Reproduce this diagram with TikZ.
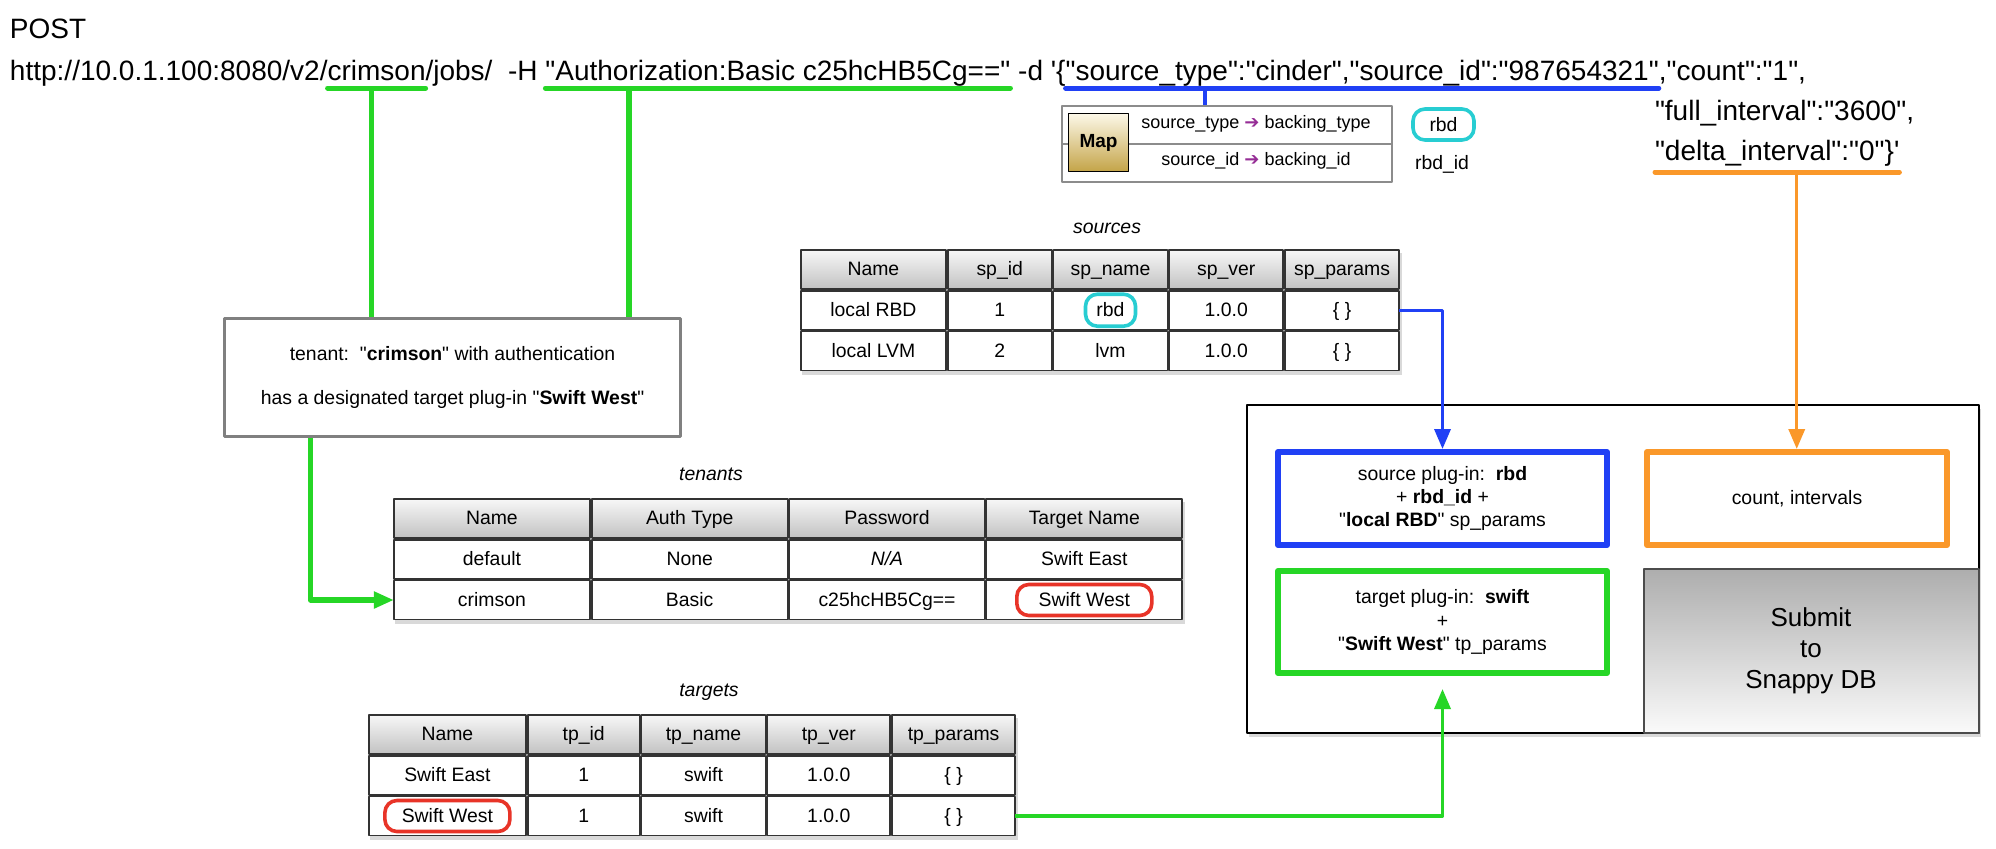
\documentclass[tikz,border=0pt]{standalone}
\usepackage{fontspec}
\setmainfont{Liberation Sans}[Ligatures=TeXOff]
\newfontfamily\urlfont{Liberation Sans}[Ligatures=TeXOff]
\newfontfamily\symfont{DejaVu Sans}
\usetikzlibrary{arrows.meta,calc,matrix,shadows}

\definecolor{linkgreen}{RGB}{38,214,38}
\definecolor{linkblue}{RGB}{32,64,245}
\definecolor{linkorange}{RGB}{250,152,42}
\definecolor{pillcyan}{RGB}{40,205,210}
\definecolor{pillred}{RGB}{232,52,40}
\definecolor{mappurple}{RGB}{150,45,150}
\definecolor{mapgold}{RGB}{196,164,72}
\definecolor{mapcream}{RGB}{252,248,232}

\newcommand{\tabfont}{\fontsize{9.7}{11.6}\selectfont}
\newcommand{\maparrow}{{\symfont\color{mappurple}\char"2794}}

\begin{document}
\begin{tikzpicture}[x=0.5pt,y=-0.5pt,line join=round,
  urltext/.style={font=\urlfont\fontsize{14}{16}\selectfont,inner sep=0pt,outer sep=0pt,anchor=base west},
  underline/.style={draw=#1,line width=2.5pt,line cap=round},
  widegreen/.style={draw=linkgreen,line width=2.8pt},
  thinline/.style={draw=#1,line width=1.7pt},
  tip/.style={-{Triangle[length=10pt,width=8pt]}},
  cell/.style={draw=black!80,line width=0.9pt,minimum height=19.5pt,inner sep=0pt,outer sep=0pt,
    text height=1.5ex,text depth=.3ex,font=\tabfont},
  dbtable/.style={matrix of nodes,inner sep=0pt,outer sep=0pt,column sep=0pt,row sep=0pt,
    anchor=north west,fill=white,drop shadow={opacity=.3,shadow xshift=1pt,shadow yshift=-2pt},
    nodes={cell},row 1/.style={nodes={top color=black!3,bottom color=black!24}}},
  tablabel/.style={font=\tabfont\itshape,inner sep=0pt},
  ring/.style={draw=#1,line width=1.8pt,rounded corners=6pt,minimum height=15.5pt,inner sep=0pt,font=\tabfont},
  plugbox/.style={draw=#1,line width=3pt,fill=white,align=center,font=\tabfont,inner sep=0pt}]
\useasboundingbox (0,0) rectangle (1996,848);

% Requete
\node[urltext] (post) at (10,38) {POST};
\node[urltext] (url) at (10,80) {http://10.0.1.100:8080/v2/};
\node[urltext] (crim) at (url.base east) {crimson};
\node[urltext] (jobs) at (crim.base east) {/jobs/\ \ -H\ \mbox{}};
\node[urltext] (auth) at (jobs.base east) {"Authorization:Basic c25hcHB5Cg=="};
\node[urltext] (dopt) at (auth.base east) {\mbox{}\ -d\ '\{};
\node[urltext] (srcpart) at (dopt.base east) {"source\_type":"cinder","source\_id":"987654321"};
\node[urltext] (cnt) at (srcpart.base east) {,"count":"1",};
\node[urltext] (full) at (1655,120) {"full\_interval":"3600",};
\node[urltext] (delta) at (1655,160) {"delta\_interval":"0"\}'};

\draw[underline=linkgreen] ($(crim.base west)+(0,8)$) -- ($(crim.base east)+(0,8)$);
\draw[underline=linkgreen] ($(auth.base west)+(0,8)$) -- ($(auth.base east)+(0,8)$);
\draw[underline=linkblue] ($(srcpart.base west)+(0,8)$) -- ($(srcpart.base east)+(0,8)$);
\draw[underline=linkorange] ($(delta.base west)+(0,12)$) -- ($(delta.base east)+(0,12)$);
\coordinate (crimmark) at ($(crim.base west)!0.45!(crim.base east)+(0,8)$);
\coordinate (authmark) at ($(auth.base west)!0.18!(auth.base east)+(0,8)$);
\coordinate (srcmark) at ($(srcpart.base west)!0.235!(srcpart.base east)+(0,8)$);
\coordinate (deltamark) at ($(delta.base west)!0.58!(delta.base east)+(0,12)$);

% Map
\node[draw=black!45,line width=1.2pt,fill=white,minimum width=165pt,minimum height=38pt] (mapbox) at (1227,144) {};
\draw[draw=black!45,line width=1.2pt] (mapbox.west) -- (mapbox.east);
\node[draw=black,line width=0.8pt,top color=mapcream,bottom color=mapgold,minimum width=30pt,minimum height=29pt,
  font=\fontsize{9.5}{11}\selectfont\bfseries] (maplabel) at (1098.5,142.5) {Map};
\node[font=\fontsize{9}{11}\selectfont] (maprow1) at (1256,124) {source\_type \maparrow{} backing\_type};
\node[font=\fontsize{9}{11}\selectfont] (maprow2) at (1256,161) {source\_id \maparrow{} backing\_id};
\node[ring=pillcyan,minimum width=30.5pt] (rbdpill) at (1443.5,124.5) {rbd};
\node[font=\tabfont] (rbdid) at (1442,164) {rbd\_id};

% Tables
\node[tablabel] (srclabel) at (1107,228) {sources};
\matrix (srctab) [dbtable,
  column 1/.style={nodes={minimum width=72.5pt}},
  column 2/.style={nodes={minimum width=52pt}},
  column 3/.style={nodes={minimum width=57pt}},
  column 4/.style={nodes={minimum width=57pt}},
  column 5/.style={nodes={minimum width=57pt}}] at (800,249) {
  Name & sp\_id & sp\_name & sp\_ver & sp\_params \\
  local RBD & 1 & rbd & 1.0.0 & \{ \} \\
  local LVM & 2 & lvm & 1.0.0 & \{ \} \\
};
\node[ring=pillcyan,minimum width=25pt,minimum height=16pt] (rbdring) at (srctab-2-3) {};

\node[tablabel] (tenlabel) at (711,474) {tenants};
\matrix (tentab) [dbtable,
  column 1/.style={nodes={minimum width=98pt}},
  column 2/.style={nodes={minimum width=98pt}},
  column 3/.style={nodes={minimum width=97.5pt}},
  column 4/.style={nodes={minimum width=98pt}}] at (393,498) {
  Name & Auth Type & Password & Target Name \\
  default & None & \textit{N/A} & Swift East \\
  crimson & Basic & c25hcHB5Cg== & Swift West \\
};
\node[ring=pillred,minimum width=67.5pt] (tenring) at (tentab-3-4) {};

\node[tablabel] (tgtlabel) at (709,692) {targets};
\matrix (tgttab) [dbtable,
  column 1/.style={nodes={minimum width=78.5pt}},
  column 2/.style={nodes={minimum width=56pt}},
  column 3/.style={nodes={minimum width=62pt}},
  column 4/.style={nodes={minimum width=61.5pt}},
  column 5/.style={nodes={minimum width=61.5pt}}] at (368,714) {
  Name & tp\_id & tp\_name & tp\_ver & tp\_params \\
  Swift East & 1 & swift & 1.0.0 & \{ \} \\
  Swift West & 1 & swift & 1.0.0 & \{ \} \\
};
\node[ring=pillred,minimum width=62.5pt] (tgtring) at (tgttab-3-1) {};

% Tenant
\node[draw=black!50,line width=1.4pt,fill=white,minimum width=228pt,minimum height=59pt,align=center,font=\tabfont]
  (tenant) at (452.5,377.5) {tenant:\ \ "\textbf{crimson}" with authentication\\[10pt]has a designated target plug-in "\textbf{Swift West}"};

% Boite finale
\node[draw=black,line width=1pt,fill=white,minimum width=366pt,minimum height=164pt,
  drop shadow={opacity=.3,shadow xshift=1pt,shadow yshift=-2pt}] (jobbox) at (1612.5,568.5) {};
\node[plugbox=linkblue,minimum width=164.5pt,minimum height=46.5pt] (srcbox) at (1442.5,498.5)
  {source plug-in:\ \ \textbf{rbd}\\+ \textbf{rbd\_id} +\\"\textbf{local RBD}" sp\_params};
\node[plugbox=linkorange,minimum width=150pt,minimum height=46.5pt] (cntbox) at (1797,498.5) {count, intervals};
\node[plugbox=linkgreen,minimum width=164.5pt,minimum height=51pt] (tgtbox) at (1442.5,622)
  {target plug-in:\ \ \textbf{swift}\\+\\"\textbf{Swift West}" tp\_params};
\node[draw=black!70,line width=1pt,top color=black!32,bottom color=black!2,minimum width=167.5pt,minimum height=81.75pt,
  align=center,font=\fontsize{13}{15.5}\selectfont] (submit) at (1811,650.75) {Submit\\to\\Snappy DB};

% Liens
\draw[widegreen] (crimmark) -- (crimmark |- tenant.north);
\draw[widegreen] (authmark) -- (authmark |- tenant.north);
\draw[thinline=linkblue] (srcmark) -- (srcmark |- mapbox.north);
\draw[thinline=linkorange,tip] (deltamark) -- (deltamark |- cntbox.north);
\draw[thinline=linkblue,tip] (srctab-2-5.east) -| (srcbox.north);
\draw[widegreen,line width=2.6pt,tip] ($(tenant.south west)!0.19!(tenant.south east)$) |- (tentab-3-1.west);
\coordinate (tgttip) at ($(tgtbox.south)+(0,13)$);
\draw[thinline=linkgreen,tip] (tgttab-3-5.east) -| (tgttip);
\end{tikzpicture}
\end{document}
